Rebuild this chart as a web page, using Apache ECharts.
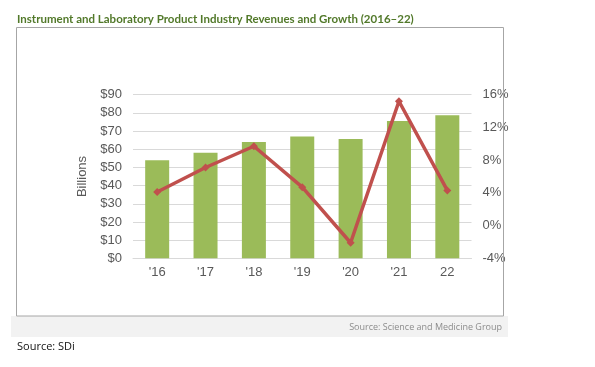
<!DOCTYPE html>
<html>
<head>
<meta charset="utf-8">
<script src="https://cdn.jsdelivr.net/npm/echarts@6/dist/echarts.min.js"></script>
<style>
html,body{margin:0;padding:0;background:#fff;}
#c{width:595px;height:367px;}
</style>
</head>
<body>
<div id="c"></div>
<script>
const categories = ["'16", "'17", "'18", "'19", "'20", "'21", "22"];
const revenues = [54, 58, 64, 67, 65.6, 75.5, 78.7];
const growth = [4.1, 7.1, 9.7, 4.7, -2.1, 15.2, 4.3];
const titleText = "Instrument and Laboratory Product Industry Revenues and Growth (2016\u201322)";
const footerText = "Source: Science and Medicine Group";
const sourceText = "Source: SDi";

const chart = echarts.init(document.getElementById('c'), null, {renderer: 'canvas'});
const labelFont = {fontFamily: 'Liberation Sans', fontSize: 13, color: '#595959'};
chart.setOption({
  animation: false,
  backgroundColor: '#fff',
  graphic: [
    {type: 'rect', shape: {x: 11, y: 316, width: 497, height: 21}, style: {fill: '#f2f2f2'}, z: 0},
    {type: 'rect', shape: {x: 16.5, y: 27.5, width: 487, height: 288.5}, style: {fill: 'none', stroke: '#a6a6a6', lineWidth: 1}, z: 1},
    {type: 'text', x: 17, y: 19, style: {text: titleText, fontFamily: 'Lato', fontWeight: 'bold', fontSize: 11.5, fill: '#52792a', textVerticalAlign: 'middle'}},
    {type: 'text', x: 502, y: 327, style: {text: footerText, fontFamily: 'Open Sans', fontSize: 9, fill: '#8c8c8c', textAlign: 'right', textVerticalAlign: 'middle'}},
    {type: 'text', x: 17, y: 347, style: {text: sourceText, fontFamily: 'Open Sans', fontSize: 11, fill: '#111', textVerticalAlign: 'middle'}}
  ],
  grid: {left: 133, right: 123.5, top: 94.7, bottom: 108.7},
  xAxis: {
    type: 'category', data: categories,
    axisLine: {lineStyle: {color: '#d9d9d9'}},
    axisTick: {show: false},
    axisLabel: Object.assign({margin: 8}, labelFont)
  },
  yAxis: [
    {
      type: 'value', min: 0, max: 90, interval: 10,
      name: 'Billions', nameLocation: 'middle', nameGap: 32, nameRotate: 90,
      nameTextStyle: {fontFamily: 'Liberation Sans', fontSize: 13, color: '#595959'},
      axisLabel: Object.assign({margin: 11, formatter: v => '$' + v}, labelFont),
      splitLine: {lineStyle: {color: '#d9d9d9', width: 1}},
      axisLine: {show: false}, axisTick: {show: false}
    },
    {
      type: 'value', min: -4, max: 16, interval: 4,
      axisLabel: Object.assign({margin: 11, formatter: v => v + '%'}, labelFont),
      splitLine: {show: false},
      axisLine: {show: false}, axisTick: {show: false}
    }
  ],
  series: [
    {type: 'bar', data: revenues, yAxisIndex: 0, barWidth: 24, itemStyle: {color: '#9bbb59'}},
    {type: 'line', data: growth, yAxisIndex: 1, symbol: 'diamond', symbolSize: 8,
     lineStyle: {color: '#c0504d', width: 3.5}, itemStyle: {color: '#c0504d'}, z: 3}
  ]
});
</script>
</body>
</html>
